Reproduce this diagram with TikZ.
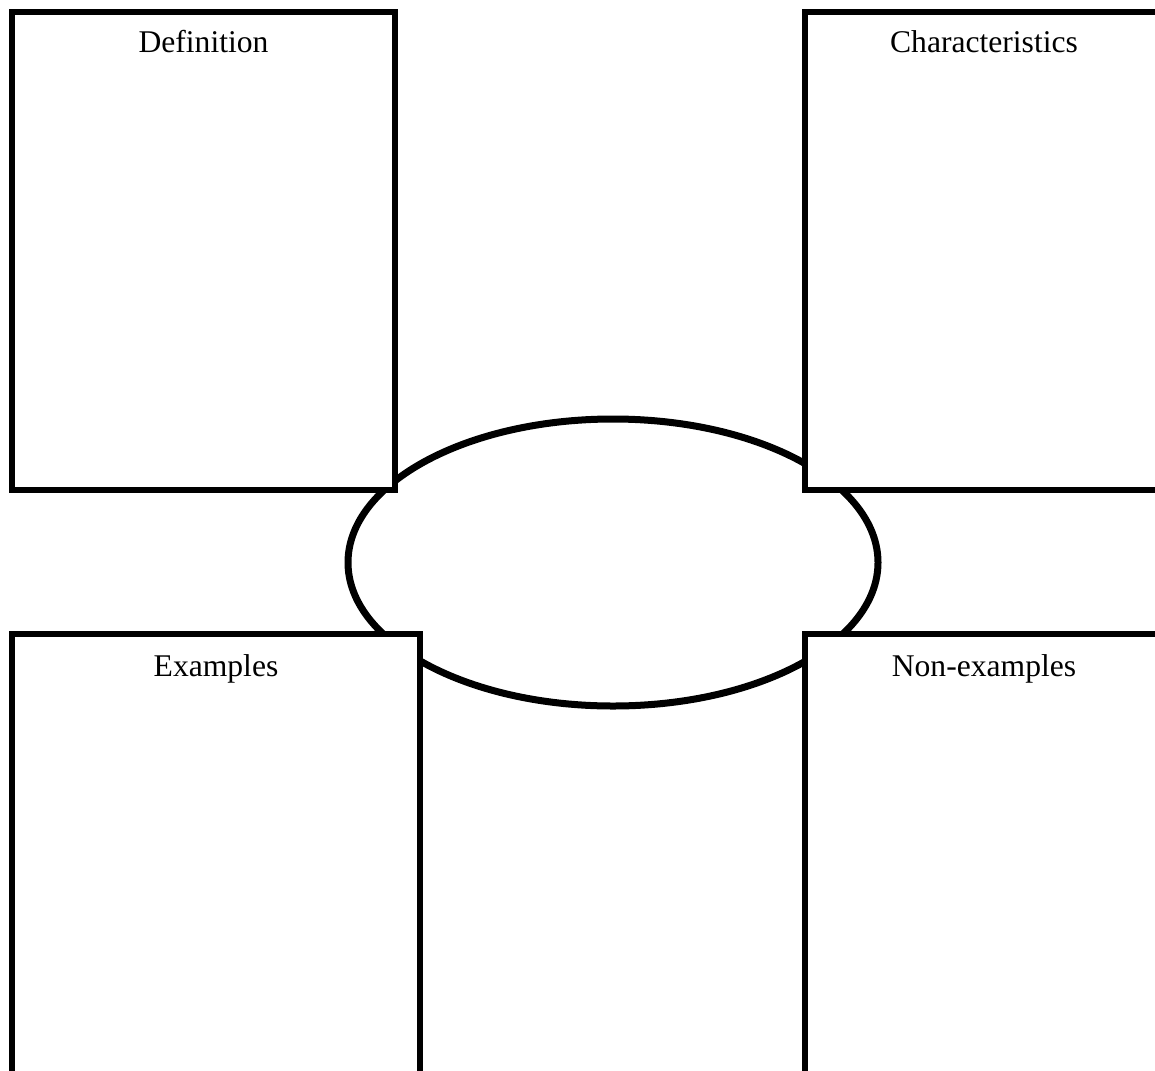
\documentclass[tikz,border=0pt]{standalone}
\usepackage{fontspec}
\setmainfont{Liberation Serif}
\usetikzlibrary{shapes.geometric}
\begin{document}
\begin{tikzpicture}[x=1pt,y=-1pt,
  panel/.style={draw=black, fill=white, line width=6pt, rectangle, inner sep=0pt, outer sep=0pt},
  oval/.style={draw=black, fill=white, line width=7pt, ellipse, inner sep=0pt, outer sep=0pt},
  lbl/.style={anchor=base, inner sep=0pt, font=\fontsize{31.6}{38}\selectfont}]
\useasboundingbox (0,0) rectangle (1155,1070);
\clip (0,0) rectangle (1155,1070);
\fill[white] (0,0) rectangle (1155,1070);
\node[oval, minimum width=530pt, minimum height=287pt] (centre) at (613,562.5) {};
\node[panel, minimum width=383pt, minimum height=478pt] (def) at (203.5,251) {};
\node[panel, minimum width=358pt, minimum height=478pt] (char) at (984,251) {};
\node[panel, minimum width=408pt, minimum height=486pt] (ex) at (216,877) {};
\node[panel, minimum width=358pt, minimum height=486pt] (nonex) at (984,877) {};
\node[lbl] (tdef) at (203.5,53) {Definition};
\node[lbl] (tchar) at (984,53) {Characteristics};
\node[lbl] (tex) at (216,676) {Examples};
\node[lbl] (tnonex) at (984,676) {Non-examples};
\end{tikzpicture}
\end{document}
